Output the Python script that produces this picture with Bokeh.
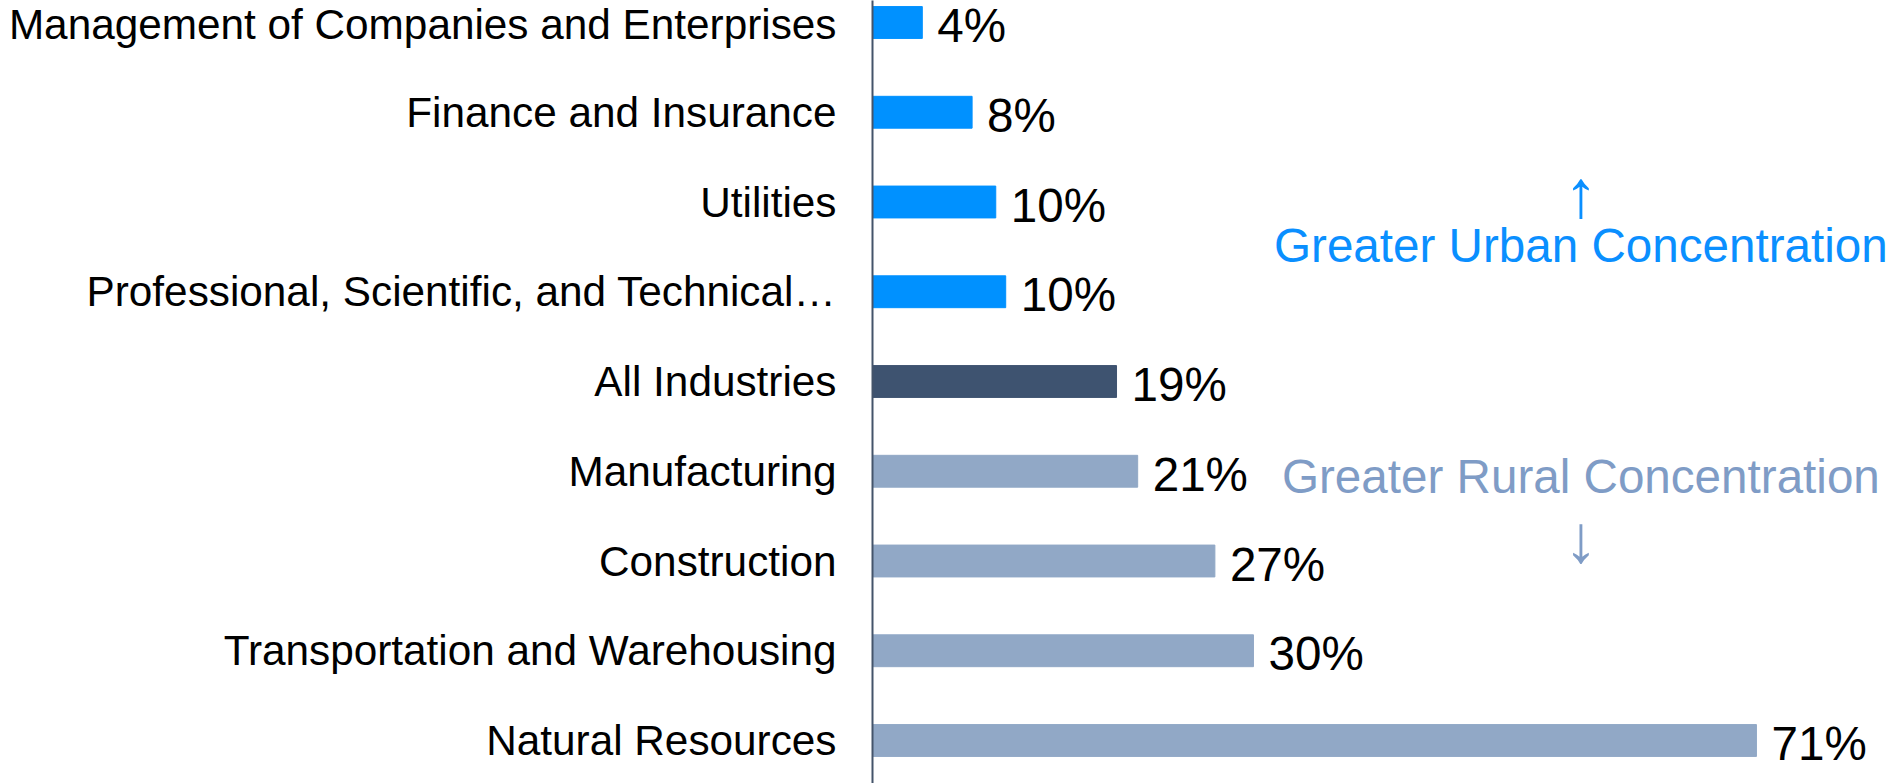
from bokeh.plotting import figure
from bokeh.models import Range1d, FixedTicker, ColumnDataSource
from bokeh.core.properties import value
from bokeh.embed import file_html
from bokeh.resources import INLINE

# ---- data (top to bottom) ----
industries = [
    "Management of Companies and Enterprises",
    "Finance and Insurance",
    "Utilities",
    "Professional, Scientific, and Technical\u2026",
    "All Industries",
    "Manufacturing",
    "Construction",
    "Transportation and Warehousing",
    "Natural Resources",
]
rural_share = [4.0, 8.0, 9.9, 10.7, 19.6, 21.3, 27.5, 30.6, 71.0]
share_labels = ["4%", "8%", "10%", "10%", "19%", "21%", "27%", "30%", "71%"]
groups = ["urban", "urban", "urban", "urban", "all", "rural", "rural", "rural", "rural"]

palette = {"urban": "#0091FF", "all": "#3E5370", "rural": "#91A8C6"}
FONT = "Liberation Sans"

positions = list(range(len(industries)))
src = ColumnDataSource(dict(
    pos=positions,
    val=rural_share,
    lab=share_labels,
    color=[palette[g] for g in groups],
))

W, H = 1890, 783
FRAME_LEFT = 872
PX_PER_UNIT = 12.45          # px per percentage point
ROW_PX = 89.75               # px per category row
TOP_PAD = 22                 # px from frame top to first row centre

n = len(industries)
x_end = (W - FRAME_LEFT) / PX_PER_UNIT
y_top = -TOP_PAD / ROW_PX
y_bottom = (n - 1) + (H - TOP_PAD - (n - 1) * ROW_PX) / ROW_PX

p = figure(width=W, height=H, output_backend="svg", toolbar_location=None,
           x_range=Range1d(0, x_end), y_range=Range1d(y_bottom, y_top),
           x_axis_location=None, min_border_left=FRAME_LEFT, min_border_right=0,
           min_border_top=0, min_border_bottom=0)
p.outline_line_color = None
p.xgrid.visible = False
p.ygrid.visible = False
p.background_fill_color = "white"
p.border_fill_color = "white"

p.hbar(y="pos", left=0, right="val", height=0.355, color="color", source=src)

p.text(x="val", y="pos", text="lab", source=src, x_offset=15, y_offset=3,
       text_baseline="middle", text_align="left",
       text_font=value(FONT), text_font_size="47.6px", text_color="black")

ax = p.yaxis[0]
ax.ticker = FixedTicker(ticks=positions)
ax.major_label_overrides = {i: s for i, s in zip(positions, industries)}
ax.major_label_text_font = FONT
ax.major_label_text_font_size = "42.3px"
ax.major_label_text_color = "black"
ax.major_label_standoff = 36
ax.major_tick_line_color = None
ax.major_tick_out = 0
ax.major_tick_in = 0
ax.minor_tick_line_color = None
ax.axis_line_color = "#44546A"
ax.axis_line_width = 2

urban_col = "#0A8FFF"
rural_col = "#7F9CC6"
cx = 56.9
p.text(x=[cx], y=[1.903], text=["\u2191"], text_align="center", text_baseline="middle",
       text_font=value(FONT), text_font_size="67px", text_color=urban_col)
p.text(x=[cx], y=[2.49], text=["Greater Urban Concentration"], text_align="center",
       text_baseline="middle", text_font=value(FONT), text_font_size="47.6px",
       text_color=urban_col)
p.text(x=[cx], y=[5.064], text=["Greater Rural Concentration"], text_align="center",
       text_baseline="middle", text_font=value(FONT), text_font_size="47.6px",
       text_color=rural_col)
p.text(x=[cx], y=[5.753], text=["\u2193"], text_align="center", text_baseline="middle",
       text_font=value(FONT), text_font_size="67px", text_color=rural_col)

open("out.html", "w").write(file_html(p, INLINE))
